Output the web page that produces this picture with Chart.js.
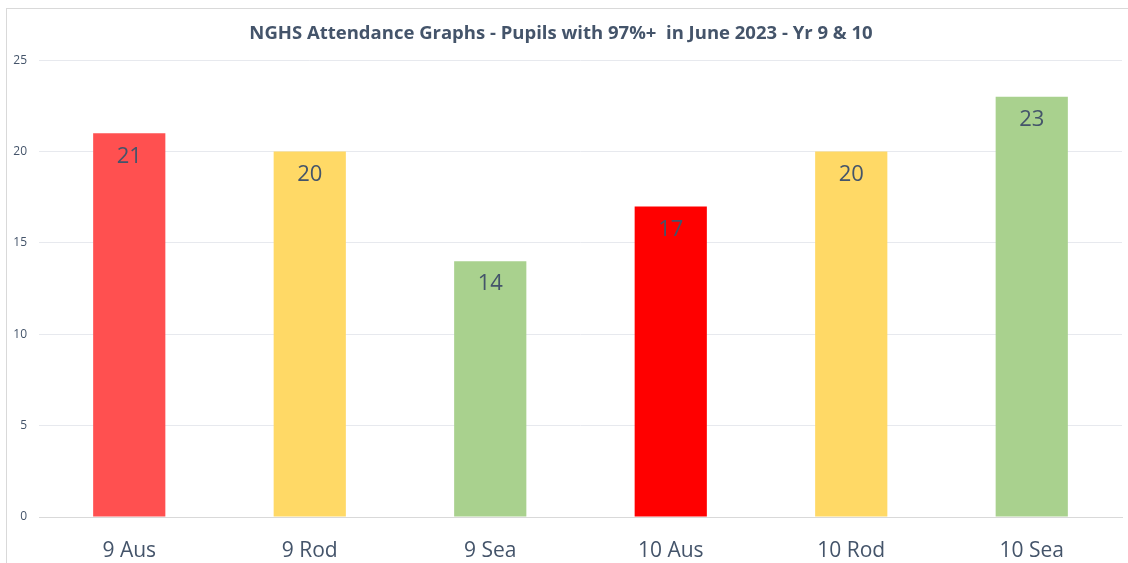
<!DOCTYPE html>
<html>
<head>
<meta charset="utf-8">
<script src="https://cdn.jsdelivr.net/npm/chart.js@4"></script>
<style>
  html, body { margin: 0; padding: 0; background: #fff; overflow: hidden; }
  #wrap { width: 1128px; height: 563px; }
</style>
</head>
<body>
<div id="wrap"><canvas id="attChart" width="1128" height="563"></canvas></div>
<script>
// NGHS attendance - pupils with 97%+ (June 2023)
const categories = ['9 Aus', '9 Rod', '9 Sea', '10 Aus', '10 Rod', '10 Sea'];
const pupils = [21, 20, 14, 17, 20, 23];
const barColours = ['#FF5050', '#FFD966', '#A9D18E', '#FF0000', '#FFD966', '#A9D18E'];
const yTicks = [0, 5, 10, 15, 20, 25];

const textCol = '#44546A';

// outer frame like the spreadsheet chart box
const framePlugin = {
  id: 'frame',
  beforeDraw(chart) {
    const ctx = chart.ctx;
    ctx.save();
    ctx.fillStyle = '#fff';
    ctx.fillRect(0, 0, chart.width, chart.height);
    ctx.strokeStyle = '#D9D9D9';
    ctx.lineWidth = 1;
    ctx.strokeRect(6.5, 8.5, 1300, 700);
    ctx.restore();
  }
};

// value labels just inside the top of each bar
const valueLabels = {
  id: 'valueLabels',
  afterDatasetsDraw(chart) {
    const ctx = chart.ctx;
    const meta = chart.getDatasetMeta(0);
    ctx.save();
    ctx.font = '22px "Open Sans", sans-serif';
    ctx.fillStyle = textCol;
    ctx.textAlign = 'center';
    ctx.textBaseline = 'middle';
    meta.data.forEach((bar, i) => {
      ctx.fillText(String(pupils[i]), bar.x, bar.y + 23);
    });
    ctx.restore();
  }
};

new Chart(document.getElementById('attChart').getContext('2d'), {
  type: 'bar',
  data: {
    labels: categories,
    datasets: [{
      data: pupils,
      backgroundColor: barColours,
      borderWidth: 0,
      barPercentage: 0.8,
      categoryPercentage: 0.5,
    }]
  },
  options: {
    responsive: false,
    animation: false,
    layout: { padding: { left: 0, right: 6, top: 0, bottom: 0 } },
    plugins: {
      legend: { display: false },
      tooltip: { enabled: false },
      title: {
        display: true,
        text: 'NGHS Attendance Graphs - Pupils with 97%+  in June 2023 - Yr 9 & 10',
        color: textCol,
        font: { family: '"Open Sans", sans-serif', size: 18.5, weight: 'bold' },
        padding: { top: 23, bottom: 15 }
      }
    },
    scales: {
      x: {
        afterFit(scale) { scale.height = 46; },
        grid: { display: false, drawTicks: false },
        border: { display: true, color: '#D9D9D9', width: 1 },
        ticks: { color: textCol, font: { family: '"Open Sans", sans-serif', size: 21 }, padding: 21 }
      },
      y: {
        min: 0,
        max: 25,
        afterBuildTicks(scale) { scale.ticks = yTicks.map(v => ({ value: v })); },
        afterFit(scale) { scale.width = 39; },
        grid: { color: '#E7E9EE', drawTicks: false },
        border: { display: false },
        ticks: { color: textCol, font: { family: '"Open Sans", sans-serif', size: 12 }, padding: 12 }
      }
    }
  },
  plugins: [framePlugin, valueLabels]
});
</script>
</body>
</html>
